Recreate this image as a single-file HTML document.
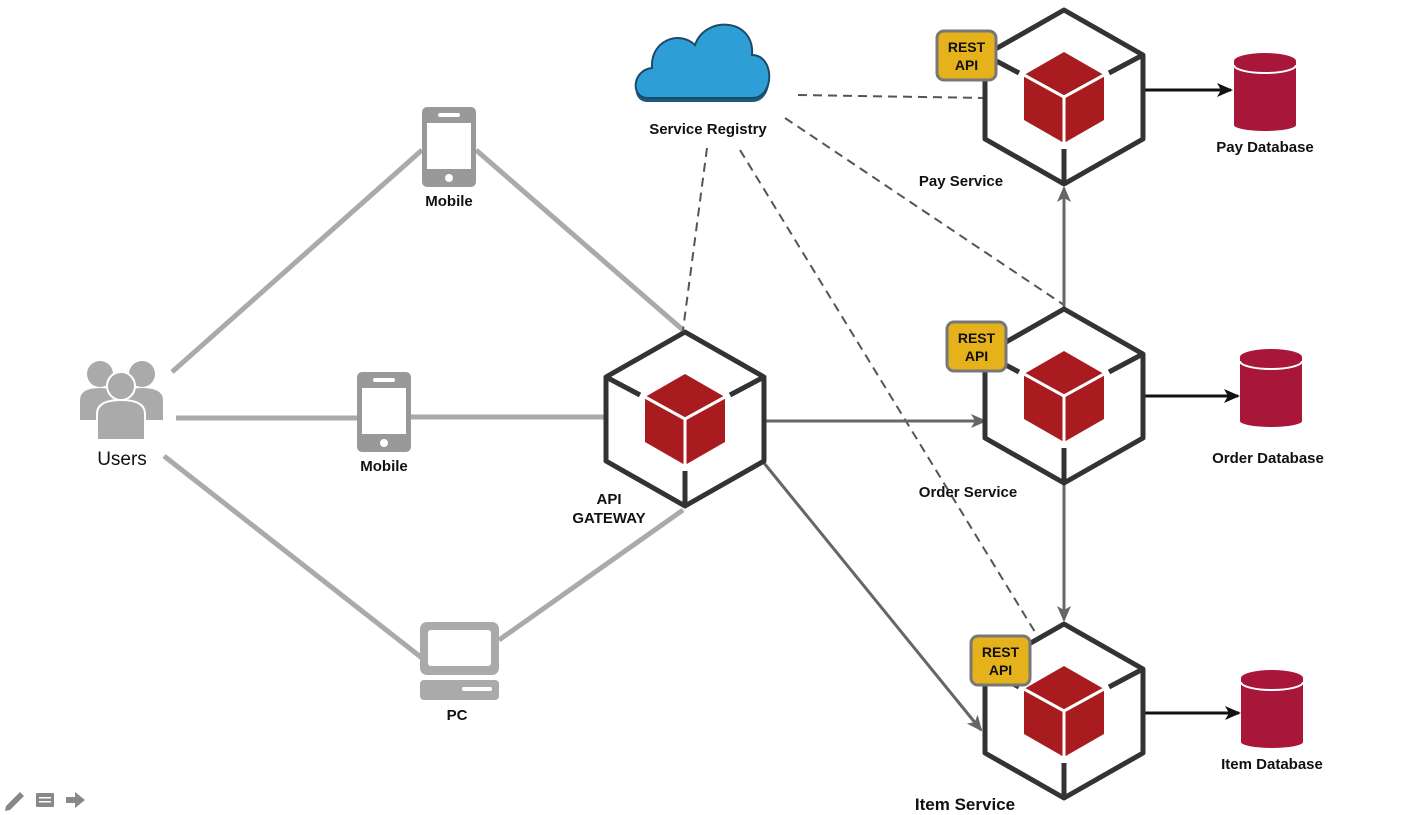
<!DOCTYPE html>
<html><head><meta charset="utf-8"><style>
html,body{margin:0;padding:0;background:#fff;width:1412px;height:815px;overflow:hidden}
text{font-family:"Liberation Sans",sans-serif;font-weight:bold;font-size:15px;fill:#111}
</style></head><body>
<svg width="1412" height="815" viewBox="0 0 1412 815" xmlns="http://www.w3.org/2000/svg">
<defs>
<g id="hex">
<polygon points="0,-87 79,-42 79,42 0,87 -79,42 -79,-42" fill="#fff" stroke="#333" stroke-width="5" stroke-linejoin="round"/>
<line x1="-79" y1="-42" x2="-45" y2="-24" stroke="#333" stroke-width="5"/>
<line x1="79" y1="-42" x2="45" y2="-24" stroke="#333" stroke-width="5"/>
<line x1="0" y1="87" x2="0" y2="52" stroke="#333" stroke-width="5"/>
<polygon points="0,-45 40,-22 40,23 0,46 -40,23 -40,-22" fill="#a81c1f"/>
<polyline points="-40,-22 0,0 40,-22" fill="none" stroke="#fff" stroke-width="3"/>
<line x1="0" y1="0" x2="0" y2="46" stroke="#fff" stroke-width="3"/>
</g>
<g id="db">
<rect x="0" y="8" width="62" height="64" fill="#a8163a"/>
<ellipse cx="31" cy="72" rx="31" ry="6" fill="#a8163a"/>
<ellipse cx="31" cy="8" rx="31" ry="8" fill="#a8163a"/>
<path d="M0,12 A31,8 0 0 0 62,12" fill="none" stroke="#fff" stroke-width="2"/>
</g>
<g id="rest">
<rect x="0" y="0" width="59" height="49" rx="7" fill="#e5b21c" stroke="#777" stroke-width="3"/>
<text x="29.5" y="21" text-anchor="middle" style="font-size:14px">REST</text>
<text x="29.5" y="39" text-anchor="middle" style="font-size:14px">API</text>
</g>
<g id="phone">
<rect x="0" y="0" width="54" height="80" rx="5" fill="#999"/>
<rect x="5" y="16" width="44" height="46" fill="#fff"/>
<rect x="16" y="6" width="22" height="4" rx="2" fill="#fff"/>
<circle cx="27" cy="71" r="4" fill="#fff"/>
</g>
<marker id="ag" markerWidth="16" markerHeight="14" refX="14" refY="7" orient="auto" markerUnits="userSpaceOnUse"><path d="M0,0 L16,7 L0,14 L4,7z" fill="#666"/></marker>
<marker id="ab" markerWidth="16" markerHeight="14" refX="14" refY="7" orient="auto" markerUnits="userSpaceOnUse"><path d="M0,0 L16,7 L0,14 L4,7z" fill="#111"/></marker>
</defs>

<g stroke="#aaa" stroke-width="5" fill="none">
<line x1="172" y1="372" x2="422" y2="150"/>
<line x1="476" y1="150" x2="683" y2="330"/>
<line x1="176" y1="418" x2="357" y2="418"/>
<line x1="411" y1="417" x2="606" y2="417"/>
<line x1="164" y1="456" x2="422" y2="658"/>
<line x1="499" y1="640" x2="683" y2="510"/>
</g>

<g stroke="#555" stroke-width="2" stroke-dasharray="9,6" fill="none">
<line x1="798" y1="95" x2="985" y2="98"/>
<line x1="785" y1="118" x2="1064" y2="305"/>
<line x1="707" y1="148" x2="683" y2="330"/>
<line x1="740" y1="150" x2="1035" y2="632"/>
</g>

<g stroke="#666" stroke-width="3" fill="none">
<line x1="764" y1="421" x2="985" y2="421" marker-end="url(#ag)"/>
<line x1="764" y1="463" x2="981" y2="730" marker-end="url(#ag)"/>
<line x1="1064" y1="308" x2="1064" y2="188" marker-end="url(#ag)"/>
<line x1="1064" y1="484" x2="1064" y2="620" marker-end="url(#ag)"/>
</g>
<g stroke="#111" stroke-width="3" fill="none">
<line x1="1143" y1="90" x2="1231" y2="90" marker-end="url(#ab)"/>
<line x1="1143" y1="396" x2="1238" y2="396" marker-end="url(#ab)"/>
<line x1="1143" y1="713" x2="1239" y2="713" marker-end="url(#ab)"/>
</g>

<use href="#hex" x="685" y="419"/>
<use href="#hex" x="1064" y="97"/>
<use href="#hex" x="1064" y="396"/>
<use href="#hex" x="1064" y="711"/>

<use href="#rest" x="937" y="31"/>
<use href="#rest" x="947" y="322"/>
<use href="#rest" x="971" y="636"/>

<use href="#db" x="1234" y="53"/>
<use href="#db" x="1240" y="349"/>
<use href="#db" x="1241" y="670"/>

<g>
<path d="M648,98 C630,98 632,70 652,68 C650,40 680,30 695,45 C705,15 755,18 752,55 C775,55 775,98 752,98 Z" fill="#1d5a80" transform="translate(0,4)"/>
<path d="M648,98 C630,98 632,70 652,68 C650,40 680,30 695,45 C705,15 755,18 752,55 C775,55 775,98 752,98 Z" fill="#2e9fd6" stroke="#1d4a66" stroke-width="2"/>
</g>

<use href="#phone" x="422" y="107"/>
<use href="#phone" x="357" y="372"/>

<rect x="420" y="622" width="79" height="53" rx="7" fill="#aaa"/>
<rect x="428" y="630" width="63" height="36" rx="3" fill="#fff"/>
<rect x="420" y="680" width="79" height="20" rx="4" fill="#aaa"/>
<rect x="462" y="687" width="30" height="4" rx="2" fill="#fff"/>

<g fill="#aaa">
<circle cx="100" cy="374" r="13"/>
<circle cx="142" cy="374" r="13"/>
<path d="M80,420 L80,400 Q80,388 100,388 Q120,388 120,400 L120,420Z"/>
<path d="M122,420 L122,400 Q122,388 142,388 Q163,388 163,400 L163,420Z"/>
<circle cx="121" cy="386" r="14" stroke="#fff" stroke-width="2"/>
<path d="M97,440 L97,414 Q97,400 121,400 Q145,400 145,414 L145,440Z" stroke="#fff" stroke-width="2"/>
</g>
<text x="122" y="465" text-anchor="middle" style="font-weight:normal;font-size:19px">Users</text>

<text x="449" y="206" text-anchor="middle">Mobile</text>
<text x="384" y="471" text-anchor="middle">Mobile</text>
<text x="457" y="720" text-anchor="middle">PC</text>
<text x="609" y="504" text-anchor="middle">API</text>
<text x="609" y="523" text-anchor="middle">GATEWAY</text>
<text x="708" y="134" text-anchor="middle">Service Registry</text>
<text x="961" y="186" text-anchor="middle">Pay Service</text>
<text x="968" y="497" text-anchor="middle">Order Service</text>
<text x="965" y="810" text-anchor="middle" style="font-size:17px">Item Service</text>
<text x="1265" y="152" text-anchor="middle">Pay Database</text>
<text x="1268" y="463" text-anchor="middle">Order Database</text>
<text x="1272" y="769" text-anchor="middle">Item Database</text>

<g fill="#888">
<path d="M6,806 L20,792 L24,796 L10,810 L5,811Z"/>
<rect x="36" y="793" width="18" height="14" rx="1"/>
<rect x="39" y="797" width="12" height="1.5" fill="#fff"/>
<rect x="39" y="801" width="12" height="1.5" fill="#fff"/>
<path d="M66,797 L75,797 L75,792 L85,800 L75,808 L75,803 L66,803Z"/>
</g>
</svg>
</body></html>
